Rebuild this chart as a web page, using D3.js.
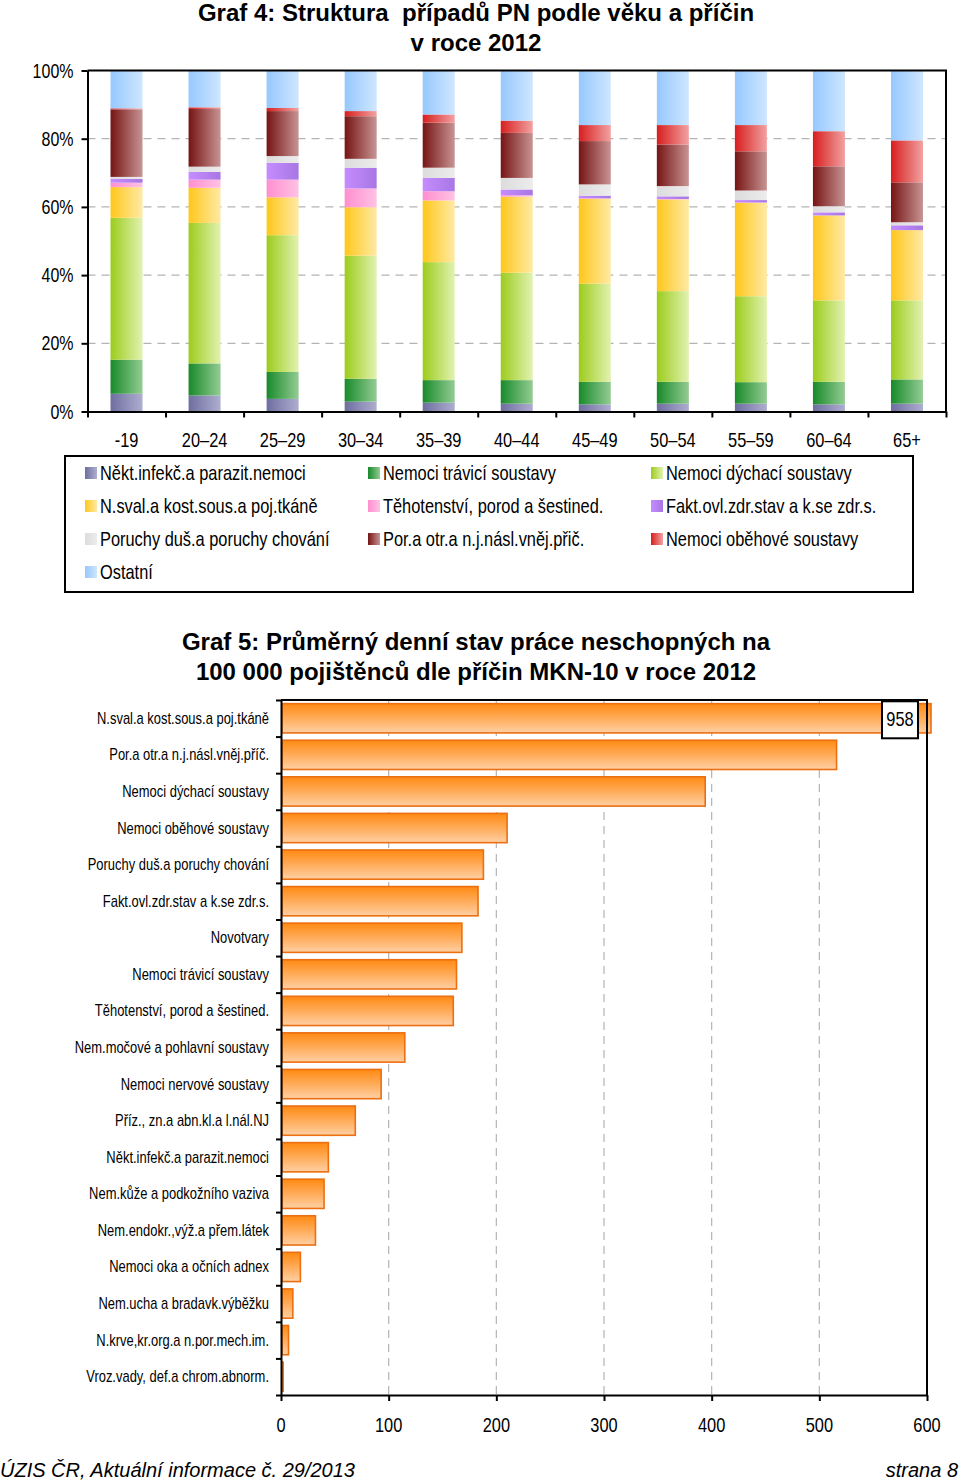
<!DOCTYPE html>
<html><head><meta charset="utf-8">
<script src="https://cdn.jsdelivr.net/npm/d3@7"></script>
<style>
body{margin:0;background:#fff;}
svg{display:block;}
text{white-space:pre;}
</style></head>
<body><svg id="c" width="960" height="1482"></svg>
<script>
// ---------- Graf 4 data (percent shares by age group) ----------
const ages = ["-19","20–24","25–29","30–34","35–39","40–44","45–49","50–54","55–59","60–64","65+"];
const causes = ["Někt.infekč.a parazit.nemoci","Nemoci trávicí soustavy","Nemoci dýchací soustavy",
  "N.sval.a kost.sous.a poj.tkáně","Těhotenství, porod a šestined.","Fakt.ovl.zdr.stav a k.se zdr.s.",
  "Poruchy duš.a poruchy chování","Por.a otr.a n.j.násl.vněj.přič.","Nemoci oběhové soustavy","Ostatní"];
const infekc   = [5.2,4.7,3.7,2.9,2.6,2.3,2.1,2.3,2.3,2.1,2.3];
const travici  = [10.0,9.4,7.9,6.7,6.6,6.9,6.6,6.4,6.3,6.6,7.1];
const dychaci  = [41.6,41.2,40.1,36.1,34.6,31.5,28.8,26.6,25.2,23.9,23.2];
const sval     = [9.0,10.3,11.1,14.2,18.1,22.3,24.9,26.9,27.4,24.9,20.6];
const tehot    = [1.3,2.4,5.2,5.5,2.7,0.4,0.1,0.1,0.1,0.0,0.0];
const fakt     = [1.1,2.3,4.9,6.1,3.9,1.7,0.8,0.8,0.7,0.9,1.4];
const dus      = [0.6,1.5,2.0,2.6,3.0,3.4,3.3,3.0,2.8,1.8,0.9];
const por      = [19.8,16.9,13.2,12.5,13.2,13.2,12.7,12.2,11.5,11.7,11.7];
const obeh     = [0.3,0.5,0.9,1.5,2.4,3.6,4.7,5.7,7.7,10.3,12.3];
const ostatni  = [11.1,10.8,11.0,11.9,12.9,14.7,16.0,16.0,16.0,17.8,20.5];
const pctTicks = [0,20,40,60,80,100];
const seriesLeft  = ["#6e6ea0","#188a2a","#9ccc1c","#ffc71a","#ff8fcf","#c58cff","#dcdcdc","#761414","#d81e1e","#96c8ff"];
const seriesRight = ["#aeaed0","#94cc94","#e2f2b2","#ffeaa6","#ffc2e4","#a877e4","#ececec","#c89494","#f2a2a2","#cfe6ff"];

// ---------- Graf 5 data ----------
const pnCauses = ["N.sval.a kost.sous.a poj.tkáně","Por.a otr.a n.j.násl.vněj.příč.","Nemoci dýchací soustavy",
  "Nemoci oběhové soustavy","Poruchy duš.a poruchy chování","Fakt.ovl.zdr.stav a k.se zdr.s.","Novotvary",
  "Nemoci trávicí soustavy","Těhotenství, porod a šestined.","Nem.močové a pohlavní soustavy",
  "Nemoci nervové soustavy","Příz., zn.a abn.kl.a l.nál.NJ","Někt.infekč.a parazit.nemoci",
  "Nem.kůže a podkožního vaziva","Nem.endokr.,výž.a přem.látek","Nemoci oka a očních adnex",
  "Nem.ucha a bradavk.výběžku","N.krve,kr.org.a n.por.mech.im.","Vroz.vady, def.a chrom.abnorm."];
const pnValues = [958,516,394,210,188,183,168,163,160,115,93,69,44,40,32,18,11,7,2];
const pnTicks = [0,100,200,300,400,500,600];

const svg = d3.select("#c");
const defs = svg.append("defs");
const SF = "'Liberation Sans',Arial,sans-serif";
const NARROW = 0.82;

// narrow text helper (Arial Narrow look: Arial metrics compressed horizontally)
function ntext(parent, x, y, str, size, anchor) {
  return parent.append("text")
    .attr("transform", `translate(${x},${y}) scale(${NARROW},1)`)
    .attr("text-anchor", anchor || "start")
    .attr("font-family", SF).attr("font-size", size).attr("fill", "#000")
    .text(str);
}

// gradients
const seriesData = [infekc,travici,dychaci,sval,tehot,fakt,dus,por,obeh,ostatni];
causes.forEach((c,i)=>{
  const g = defs.append("linearGradient").attr("id","g"+i).attr("x1","0").attr("x2","1").attr("y1","0").attr("y2","0");
  g.append("stop").attr("offset","0").attr("stop-color",seriesLeft[i]);
  g.append("stop").attr("offset","1").attr("stop-color",seriesRight[i]);
});
const og = defs.append("linearGradient").attr("id","og").attr("x1","0").attr("x2","0").attr("y1","0").attr("y2","1");
og.append("stop").attr("offset","0").attr("stop-color","#ff8a12");
og.append("stop").attr("offset","0.45").attr("stop-color","#ffa852");
og.append("stop").attr("offset","1").attr("stop-color","#ffd0a4");

// ---------- Titles ----------
const title = (lines, y0) => {
  const t = svg.append("text").attr("text-anchor","middle").attr("font-family",SF)
    .attr("font-weight","bold").attr("font-size",24).attr("fill","#000");
  lines.forEach((l,i)=> t.append("tspan").attr("x",476).attr("y",y0+i*30).text(l));
};
title(["Graf 4: Struktura  případů PN podle věku a příčin","v roce 2012"],21);

// ---------- Graf 4 ----------
const L1 = 87.5, R1 = 946, T1 = 70.5, B1 = 411.5;
const x1 = d3.scaleBand().domain(ages).range([L1,R1]).paddingInner(0.59).paddingOuter(0.295);
const y1 = d3.scaleLinear().domain([0,100]).range([B1,T1]);
const bnd = d3.scaleLinear().domain([0,ages.length]).range([L1,R1]);

// grid
svg.append("g").selectAll("line").data(pctTicks.filter(d=>d>0&&d<100)).join("line")
  .attr("x1",L1).attr("x2",R1).attr("y1",d=>y1(d)).attr("y2",d=>y1(d))
  .attr("stroke","#b4b4b4").attr("stroke-width",1.2).attr("stroke-dasharray","8,6");

const rows = ages.map((a,j)=>{ const o={age:a}; causes.forEach((c,i)=>o[c]=seriesData[i][j]); return o;});
const stack = d3.stack().keys(causes)(rows);
svg.append("g").selectAll("g").data(stack).join("g").attr("fill",(d,i)=>`url(#g${i})`)
  .selectAll("rect").data(d=>d).join("rect")
  .attr("x",d=>x1(d.data.age)).attr("width",x1.bandwidth())
  .attr("y",d=>y1(d[1])).attr("height",d=>Math.max(0,y1(d[0])-y1(d[1])));

// frame + axes
svg.append("path").attr("d",`M${L1},${T1}H${R1}V${B1}`).attr("fill","none").attr("stroke","#000").attr("stroke-width",2);
const ya1 = svg.append("g").attr("transform",`translate(${L1},0)`)
  .call(d3.axisLeft(y1).tickValues(pctTicks).tickFormat("").tickSize(6).tickSizeOuter(0));
ya1.select(".domain").attr("stroke-width",2);
ya1.selectAll(".tick line").attr("stroke-width",2);
const yl1 = svg.append("g");
pctTicks.forEach(d=> ntext(yl1, L1-14, y1(d)+7, d+"%", 19.5, "end"));

const xa1 = svg.append("g").attr("transform",`translate(0,${B1})`)
  .call(d3.axisBottom(bnd).tickValues(d3.range(ages.length+1)).tickFormat("").tickSize(6).tickSizeOuter(0));
xa1.select(".domain").attr("stroke-width",2);
xa1.selectAll(".tick line").attr("stroke-width",2);
const xl1 = svg.append("g");
ages.forEach(d=> ntext(xl1, x1(d)+x1.bandwidth()/2, 447, d, 20, "middle"));

// legend
svg.append("rect").attr("x",65).attr("y",456).attr("width",848).attr("height",136)
  .attr("fill","none").attr("stroke","#000").attr("stroke-width",2);
causes.forEach((d,i)=>{
  const g = svg.append("g").attr("transform",`translate(${85+(i%3)*283},${473+Math.floor(i/3)*33})`);
  g.append("rect").attr("x",0).attr("y",-6).attr("width",12).attr("height",12).attr("fill",`url(#g${i})`);
  ntext(g, 15, 7, d, 20, "start");
});

// ---------- Graf 5 ----------
title(["Graf 5: Průměrný denní stav práce neschopných na","100 000 pojištěnců dle příčin MKN-10 v roce 2012"],650);
const L2 = 281, R2 = 927, T2 = 700, B2 = 1395;
const x2 = d3.scaleLinear().domain([0,600]).range([L2,R2]);
const y2 = d3.scaleBand().domain(pnCauses).range([T2,B2]).paddingInner(0.2).paddingOuter(0.1);
const yb = d3.scaleLinear().domain([0,pnCauses.length]).range([T2,B2]);

svg.append("g").selectAll("line").data(pnTicks.filter(d=>d>0&&d<600)).join("line")
  .attr("x1",d=>x2(d)).attr("x2",d=>x2(d)).attr("y1",T2).attr("y2",B2)
  .attr("stroke","#b4b4b4").attr("stroke-width",1.2).attr("stroke-dasharray","8,6");

defs.append("clipPath").attr("id","clip2").append("rect").attr("x",L2).attr("y",T2).attr("width",R2-L2+5).attr("height",B2-T2);
const xmax = x2.domain()[1];
svg.append("g").attr("clip-path","url(#clip2)").selectAll("rect").data(pnCauses).join("rect")
  .attr("x",x2(0)+1).attr("y",d=>y2(d)).attr("height",y2.bandwidth())
  .attr("width",(d,i)=>Math.max(0,x2(Math.min(pnValues[i],xmax))-x2(0)+(pnValues[i]>xmax?4:0)-1))
  .attr("fill","url(#og)").attr("stroke","#ec6f12").attr("stroke-width",1.6);

svg.append("path").attr("d",`M${L2},${T2}H${R2}V${B2}`).attr("fill","none").attr("stroke","#000").attr("stroke-width",2);
const xa2 = svg.append("g").attr("transform",`translate(0,${B2})`)
  .call(d3.axisBottom(x2).tickValues(pnTicks).tickFormat("").tickSize(6).tickSizeOuter(0));
xa2.select(".domain").attr("stroke-width",2);
xa2.selectAll(".tick line").attr("stroke-width",2);
const xl2 = svg.append("g");
pnTicks.forEach(d=> ntext(xl2, x2(d), 1432, d, 20, "middle"));

const ya2 = svg.append("g").attr("transform",`translate(${L2},0)`)
  .call(d3.axisLeft(yb).tickValues(d3.range(pnCauses.length+1)).tickFormat("").tickSize(5).tickSizeOuter(0));
ya2.select(".domain").attr("stroke-width",2);
ya2.selectAll(".tick line").attr("stroke-width",2);
const yl2 = svg.append("g");
pnCauses.forEach(d=> ntext(yl2, L2-12, y2(d)+y2.bandwidth()/2+5.5, d, 15.8, "end"));

// data label for clipped bar
pnCauses.forEach((d,i)=>{
  if (pnValues[i] <= xmax) return;
  const g = svg.append("g").attr("transform",`translate(${R2-27},${y2(d)+y2.bandwidth()/2+1})`);
  g.append("rect").attr("x",-18).attr("y",-18).attr("width",36).attr("height",37).attr("fill","#fff").attr("stroke","#000").attr("stroke-width",2);
  ntext(g, 0, 7, pnValues[i], 20, "middle");
});

// footer
svg.append("text").attr("x",0).attr("y",1477).attr("font-family",SF).attr("font-style","italic").attr("font-size",20)
  .text("ÚZIS ČR, Aktuální informace č. 29/2013");
svg.append("text").attr("x",958).attr("y",1477).attr("text-anchor","end").attr("font-family",SF).attr("font-style","italic").attr("font-size",20)
  .text("strana 8");
</script></body></html>
